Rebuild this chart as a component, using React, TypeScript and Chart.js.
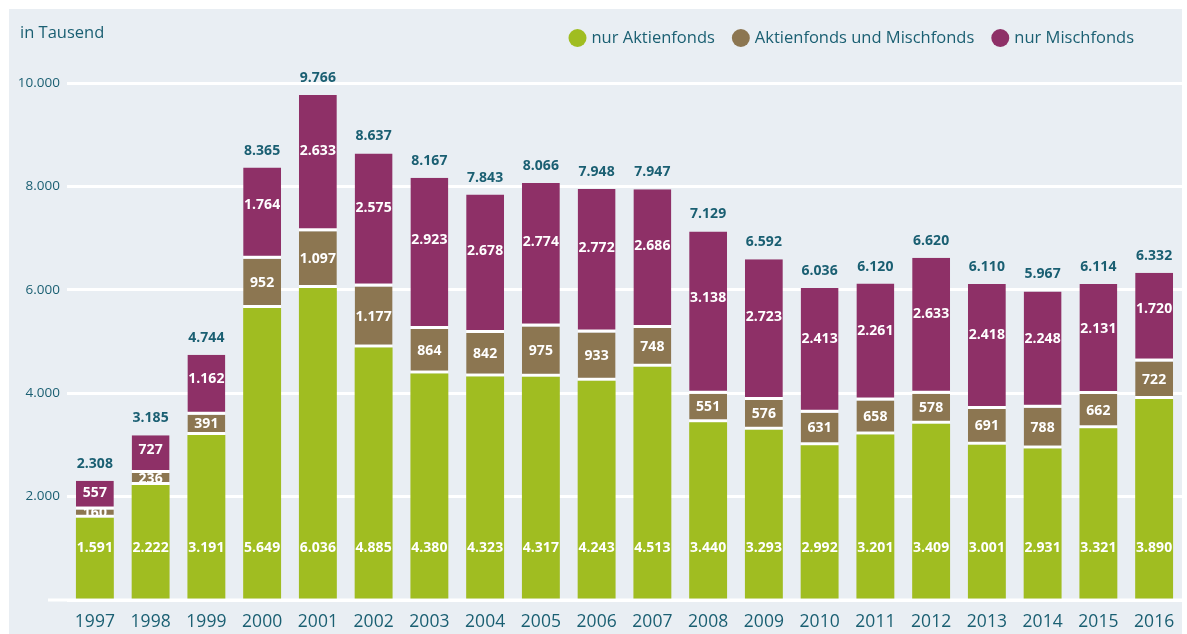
import React, { useEffect, useRef } from "react";
import { Chart, registerables } from "chart.js";

Chart.register(...registerables);

const years = ["1997", "1998", "1999", "2000", "2001", "2002", "2003", "2004", "2005", "2006", "2007", "2008", "2009", "2010", "2011", "2012", "2013", "2014", "2015", "2016"];
const nurAktienfonds = [1591, 2222, 3191, 5649, 6036, 4885, 4380, 4323, 4317, 4243, 4513, 3440, 3293, 2992, 3201, 3409, 3001, 2931, 3321, 3890];
const aktienUndMisch = [160, 236, 391, 952, 1097, 1177, 864, 842, 975, 933, 748, 551, 576, 631, 658, 578, 691, 788, 662, 722];
const nurMischfonds = [557, 727, 1162, 1764, 2633, 2575, 2923, 2678, 2774, 2772, 2686, 3138, 2723, 2413, 2261, 2633, 2418, 2248, 2131, 1720];
const totals = [2308, 3185, 4744, 8365, 9766, 8637, 8167, 7843, 8066, 7948, 7947, 7129, 6592, 6036, 6120, 6620, 6110, 5967, 6114, 6332];
const seriesLabels = ["nur Aktienfonds", "Aktienfonds und Mischfonds", "nur Mischfonds"];
const unitLabel = "in Tausend";

const GREEN = "#a0bd21";
const BROWN = "#8c7651";
const PURPLE = "#8e3067";
const TEAL = "#1a5f72";
const PANEL = "#e9eef3";
const FONT = '"Open Sans", "DejaVu Sans", sans-serif';

const fmt = (v: number) => String(v).replace(/\B(?=(\d{3})+(?!\d))/g, ".");

const decor = {
  id: "decor",
  beforeDatasetsDraw(chart: any) {
    const { ctx, chartArea } = chart;
    const y0 = chart.scales.y.getPixelForValue(0);
    ctx.save();
    ctx.strokeStyle = "#ffffff";
    ctx.lineWidth = 3;
    ctx.beginPath();
    ctx.moveTo(48, y0);
    ctx.lineTo(chartArea.right, y0);
    ctx.stroke();
    ctx.restore();
  },
  afterDatasetsDraw(chart: any) {
    const { ctx } = chart;
    const yScale = chart.scales.y;
    ctx.save();
    ctx.textAlign = "center";
    ctx.textBaseline = "middle";
    ctx.font = `bold 14px ${FONT}`;
    chart.data.datasets.forEach((ds: any, di: number) => {
      const meta = chart.getDatasetMeta(di);
      meta.data.forEach((el: any, i: number) => {
        const v = ds.data[i];
        const top = el.y;
        const bottom = di === 0 ? el.base : el.base - 3;
        let ty: number;
        if (di === 0) ty = yScale.getPixelForValue(1000);
        else if (di === 1) ty = (top + bottom) / 2 + 1;
        else ty = top + Math.max(0.42 * (bottom - top), 12);
        ctx.fillStyle = "#ffffff";
        ctx.fillText(fmt(v), el.x, ty);
        if (di === chart.data.datasets.length - 1) {
          ctx.fillStyle = TEAL;
          ctx.fillText(fmt(totals[i]), el.x, top - 17);
        }
      });
    });
    ctx.restore();
  },
  afterDraw(chart: any) {
    const { ctx } = chart;
    ctx.save();
    ctx.textBaseline = "middle";
    ctx.textAlign = "left";
    ctx.font = `16.5px ${FONT}`;
    ctx.fillStyle = TEAL;
    ctx.fillText(unitLabel, 20, 33);
    const items = chart.data.datasets.map((d: any) => ({ text: d.label, color: d.backgroundColor }));
    let x = 1134;
    const cy = 38;
    for (let k = items.length - 1; k >= 0; k--) {
      const w = ctx.measureText(items[k].text).width;
      const tx = x - w;
      ctx.fillStyle = TEAL;
      ctx.fillText(items[k].text, tx, cy);
      const cx = tx - 5 - 9;
      ctx.fillStyle = items[k].color;
      ctx.beginPath();
      ctx.arc(cx, cy, 9, 0, Math.PI * 2);
      ctx.fill();
      x = cx - 9 - 17;
    }
    ctx.restore();
  },
};

export default function App() {
  const ref = useRef<HTMLCanvasElement | null>(null);
  useEffect(() => {
    document.body.style.margin = "0";
    const canvas = ref.current;
    if (!canvas) return;
    const segBorder = { top: 0, right: 0, bottom: 3, left: 0 };
    const chart = new Chart(canvas, {
      type: "bar",
      data: {
        labels: years,
        datasets: [
          { label: seriesLabels[0], data: nurAktienfonds, backgroundColor: GREEN, borderWidth: 0, stack: "s" },
          { label: seriesLabels[1], data: aktienUndMisch, backgroundColor: BROWN, borderColor: "#ffffff", borderWidth: segBorder, borderSkipped: false, stack: "s" },
          { label: seriesLabels[2], data: nurMischfonds, backgroundColor: PURPLE, borderColor: "#ffffff", borderWidth: segBorder, borderSkipped: false, stack: "s" },
        ],
      },
      options: {
        responsive: false,
        animation: false,
        devicePixelRatio: 1,
        layout: { padding: { top: 83, right: 5, left: 0, bottom: 0 } },
        datasets: { bar: { categoryPercentage: 1, barPercentage: 0.68 } },
        plugins: { legend: { display: false }, tooltip: { enabled: false }, title: { display: false } },
        scales: {
          x: {
            stacked: true,
            grid: { display: false },
            border: { display: false },
            ticks: { color: TEAL, font: { family: FONT, size: 17.5 }, padding: 4 },
            afterFit: (s: any) => { s.height = 34; },
          },
          y: {
            stacked: true,
            min: 0,
            max: 10000,
            grid: { color: "#ffffff", lineWidth: 3, drawTicks: false },
            border: { display: false },
            ticks: {
              stepSize: 2000,
              color: TEAL,
              padding: 7,
              font: { family: FONT, size: 13.5 },
              callback: (v: any) => (Number(v) === 0 ? "" : fmt(Number(v))),
            },
            afterFit: (s: any) => { s.width = 67; },
          },
        },
      },
      plugins: [decor],
    });
    return () => chart.destroy();
  }, []);
  return (
    <div style={{ position: "relative", width: 1187, height: 634, background: "#ffffff", overflow: "hidden" }}>
      <div style={{ position: "absolute", left: 9, top: 9, width: 1173, height: 625, background: PANEL }} />
      <canvas ref={ref} width={1187} height={634} style={{ position: "absolute", left: 0, top: 0 }} />
    </div>
  );
}
